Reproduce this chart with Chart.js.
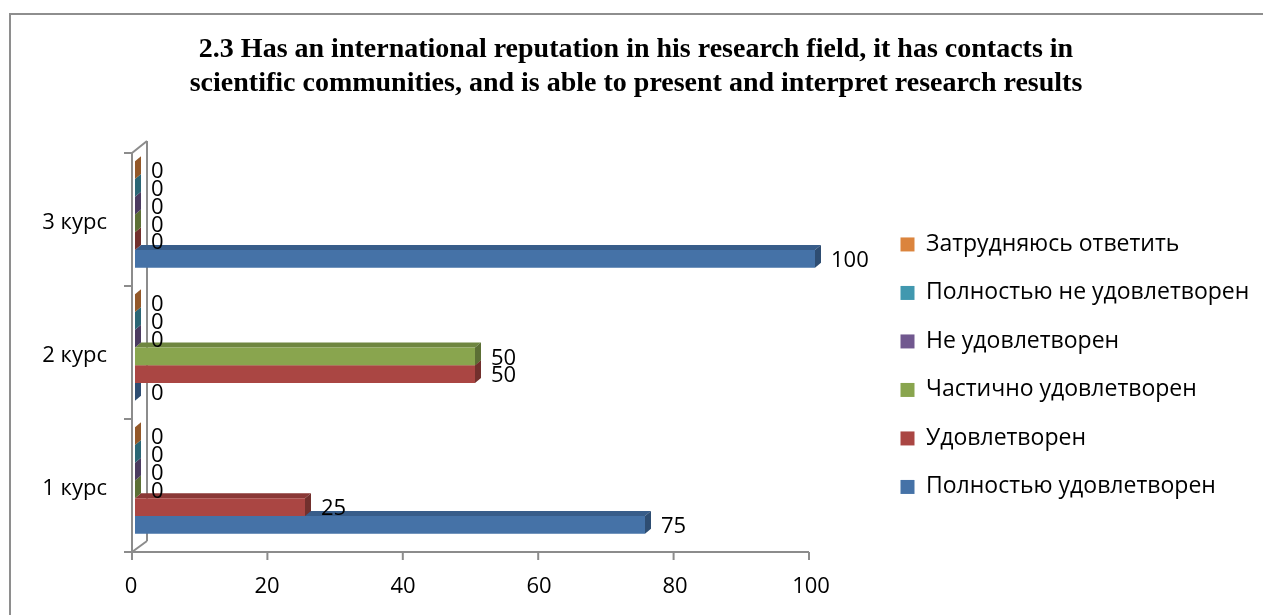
<!DOCTYPE html>
<html>
<head>
<meta charset="utf-8">
<script src="https://cdn.jsdelivr.net/npm/chart.js@4.4.1/dist/chart.umd.min.js"></script>
<style>
  html, body { margin: 0; padding: 0; background: #fff; overflow: hidden; }
  #wrap { position: relative; width: 1263px; height: 615px; overflow: hidden; }
  #frame { position: absolute; left: 9px; top: 13px; width: 1300px; height: 700px;
           border-left: 2px solid #8e8e8e; border-top: 2px solid #8e8e8e; }
  #chart { position: absolute; left: 0; top: 0; }
</style>
</head>
<body>
<div id="wrap">
  <div id="frame"></div>
  <canvas id="chart" width="1263" height="615"></canvas>
</div>
<script>
// data
var categories = ['1 курс', '2 курс', '3 курс'];
var fullySatisfied = [75, 0, 100];
var satisfied = [25, 50, 0];
var partlySatisfied = [0, 50, 0];
var notSatisfied = [0, 0, 0];
var fullyNotSatisfied = [0, 0, 0];
var hardToSay = [0, 0, 0];
var xTicks = [0, 20, 40, 60, 80, 100];

var titleLines = [
  '2.3 Has an international reputation in his research field, it has contacts in',
  'scientific communities, and is able to present and interpret research results'
];

var FONT = "'Open Sans', 'Liberation Sans', sans-serif";
var DX = 6, DY = 5; // bar depth
var LEGEND_W = 377;

// front, top and side shades for each series (Excel 2007 palette)
function series(label, data, front, top, side) {
  return {
    label: label, data: data,
    backgroundColor: front, topColor: top, sideColor: side,
    borderWidth: 0,
    categoryPercentage: 0.8, barPercentage: 1.0
  };
}

var datasets = [
  series('Затрудняюсь ответить', hardToSay, '#DB843D', '#B36B30', '#935829'),
  series('Полностью не удовлетворен', fullyNotSatisfied, '#4198AF', '#357B8E', '#2B6675'),
  series('Не удовлетворен', notSatisfied, '#71588F', '#5B4773', '#4B3B60'),
  series('Частично удовлетворен', partlySatisfied, '#89A54E', '#6F8640', '#5C6F35'),
  series('Удовлетворен', satisfied, '#AA4643', '#8A3836', '#72302D'),
  series('Полностью удовлетворен', fullySatisfied, '#4572A7', '#385D8A', '#2E4D72')
];

function line(ctx, x1, y1, x2, y2) {
  ctx.beginPath();
  ctx.moveTo(x1, y1);
  ctx.lineTo(x2, y2);
  ctx.stroke();
}

function poly(ctx, pts, color) {
  ctx.beginPath();
  ctx.moveTo(pts[0][0], pts[0][1]);
  for (var i = 1; i < pts.length; i++) ctx.lineTo(pts[i][0], pts[i][1]);
  ctx.closePath();
  ctx.fillStyle = color;
  ctx.fill();
}

// walls, axes and the depth faces of the bars
var depthPlugin = {
  id: 'depth',
  beforeDatasetsDraw: function (chart) {
    var ctx = chart.ctx, a = chart.chartArea;
    var xs = chart.scales.x, ys = chart.scales.y;
    var fx = xs.getPixelForValue(0) - 3;
    var top = a.top + 5, bot = a.bottom + 5;
    ctx.save();
    ctx.strokeStyle = '#8c8c8c';
    ctx.lineWidth = 2;
    // back wall
    line(ctx, fx, top, fx + 15, top - 12);
    line(ctx, fx + 15, top - 12, fx + 15, bot - 11);
    line(ctx, fx, bot, fx + 15, bot - 11);
    // front category axis
    line(ctx, fx, top, fx, bot);
    var n = ys.ticks.length;
    for (var k = 0; k <= n; k++) {
      var y = top + k * (a.bottom - a.top) / n;
      line(ctx, fx - 8, y, fx, y);
    }
    // value axis
    var front = function (v) { return xs.getPixelForValue(v) - 3 - 3 * v / 100; };
    line(ctx, fx - 8, bot, front(xTicks[xTicks.length - 1]), bot);
    xTicks.forEach(function (v) { line(ctx, front(v), bot, front(v), bot + 8); });

    // depth faces, bottom bar first
    for (var d = chart.data.datasets.length - 1; d >= 0; d--) {
      var ds = chart.data.datasets[d];
      chart.getDatasetMeta(d).data.forEach(function (bar) {
        var t = bar.y - bar.height / 2, b = bar.y + bar.height / 2;
        poly(ctx, [[bar.base, t], [bar.x, t], [bar.x + DX, t - DY], [bar.base + DX, t - DY]], ds.topColor);
        poly(ctx, [[bar.x, t], [bar.x + DX, t - DY], [bar.x + DX, b - DY], [bar.x, b]], ds.sideColor);
      });
    }
    ctx.restore();
  },
  afterDatasetsDraw: function (chart) {
    var ctx = chart.ctx;
    ctx.save();
    ctx.font = '22px ' + FONT;
    ctx.fillStyle = '#000';
    ctx.textAlign = 'left';
    ctx.textBaseline = 'middle';
    chart.data.datasets.forEach(function (ds, d) {
      chart.getDatasetMeta(d).data.forEach(function (bar, i) {
        ctx.fillText(String(ds.data[i]), bar.x + DX + 10, bar.y + 2);
      });
    });
    ctx.restore();
  }
};

var chart = new Chart(document.getElementById('chart'), {
  type: 'bar',
  data: { labels: categories, datasets: datasets },
  plugins: [depthPlugin],
  options: {
    indexAxis: 'y',
    responsive: false,
    animation: false,
    devicePixelRatio: 1,
    layout: { padding: { left: 20, right: 11, top: 0, bottom: 0 } },
    scales: {
      x: {
        min: 0, max: 100,
        grid: { display: false },
        border: { display: false },
        ticks: { stepSize: 20, color: '#000', font: { family: FONT, size: 22 }, padding: 19, labelOffset: -4 },
        afterFit: function (s) { s.height = 68; }
      },
      y: {
        reverse: true,
        grid: { display: false },
        border: { display: false },
        ticks: { color: '#000', font: { family: FONT, size: 22 }, padding: 20, labelOffset: 8 },
        afterFit: function (s) { s.width = 115; }
      },
      y2: {
        type: 'linear',
        position: 'right',
        grid: { display: false },
        border: { display: false },
        ticks: { display: false },
        afterFit: function (s) { s.width = 60; }
      }
    },
    plugins: {
      title: {
        display: true,
        text: titleLines,
        color: '#000',
        font: { family: "'Liberation Serif', 'Times New Roman', serif", size: 28, weight: 'bold', lineHeight: 1.214 },
        padding: { top: 33, bottom: 47 }
      },
      legend: {
        position: 'right',
        title: { display: true, text: '', font: { size: 12 }, padding: { top: 102, bottom: 0 } },
        labels: {
          color: '#000',
          font: { family: FONT, size: 23 },
          boxWidth: 14, boxHeight: 14,
          padding: 25.5
        }
      },
      tooltip: { enabled: false }
    }
  }
});

// the legend box is wider than Chart.js allows a side box to be
var legendFit = chart.legend.fit;
chart.legend.fit = function () {
  legendFit.call(this);
  this.width = LEGEND_W;
};
chart.update();
</script>
</body>
</html>
